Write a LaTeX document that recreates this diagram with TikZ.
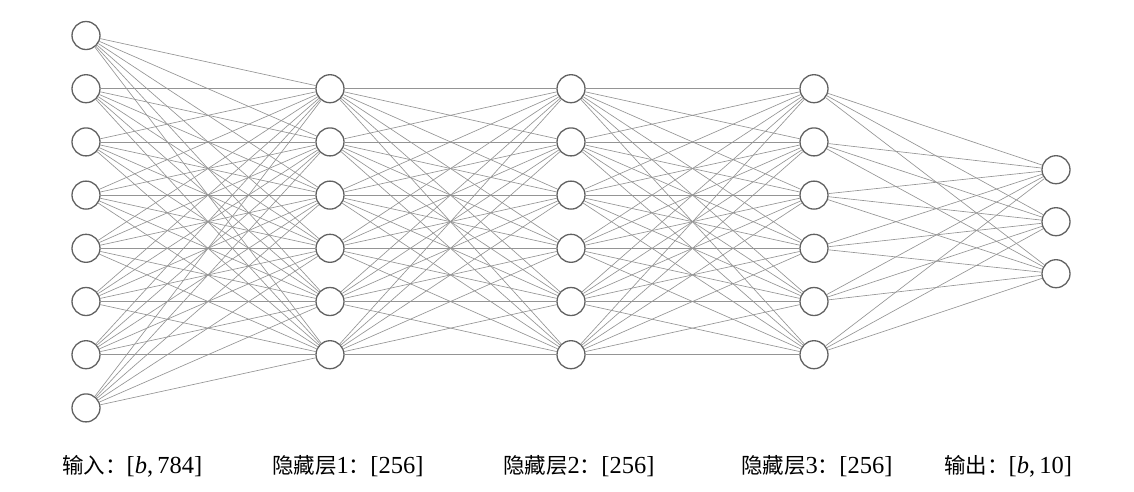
\documentclass[tikz,border=0pt]{standalone}
\usepackage{fontspec}
\setmainfont{Liberation Serif}
\newfontfamily\cjk{Noto Sans CJK SC}
\begin{document}
\begin{tikzpicture}[x=1pt,y=-1pt,
  neuron/.style={circle,draw=black!62,line width=1.3pt,fill=white,minimum size=28pt,inner sep=0pt},
  edge/.style={draw=black!42,line width=0.65pt},
  lbl/.style={anchor=base west,inner sep=0pt,font=\fontsize{24.5}{27}\selectfont}]
\useasboundingbox (0,0) rectangle (1134,491);
\foreach \i in {1,...,8} \node[neuron] (in\i) at (86,{35.5+53.2*(\i-1)}) {};
\foreach \i in {1,...,6} {
  \node[neuron] (ha\i) at (330,{35.5+53.2*\i}) {};
  \node[neuron] (hb\i) at (571,{35.5+53.2*\i}) {};
  \node[neuron] (hc\i) at (814,{35.5+53.2*\i}) {};
}
\foreach \i in {1,2,3} \node[neuron] (out\i) at (1056,{221.7+52*(\i-2)}) {};
\foreach \i in {1,...,8} \foreach \j in {1,...,6} \draw[edge] (in\i) -- (ha\j);
\foreach \i in {1,...,6} \foreach \j in {1,...,6} {
  \draw[edge] (ha\i) -- (hb\j);
  \draw[edge] (hb\i) -- (hc\j);
}
\foreach \i in {1,...,6} \foreach \j in {1,2,3} \draw[edge] (hc\i) -- (out\j);
\newcommand\cj[1]{{\cjk\fontsize{21.5}{24}\selectfont #1}}
\node[lbl] (l1) at (62,473) {\cj{输入：}[\textit{b},\,784]};
\node[lbl] (l2) at (272,473) {\cj{隐藏层}1\cj{：}[256]};
\node[lbl] (l3) at (503,473) {\cj{隐藏层}2\cj{：}[256]};
\node[lbl] (l4) at (741,473) {\cj{隐藏层}3\cj{：}[256]};
\node[lbl] (l5) at (944,473) {\cj{输出：}[\textit{b},\,10]};
\end{tikzpicture}
\end{document}
